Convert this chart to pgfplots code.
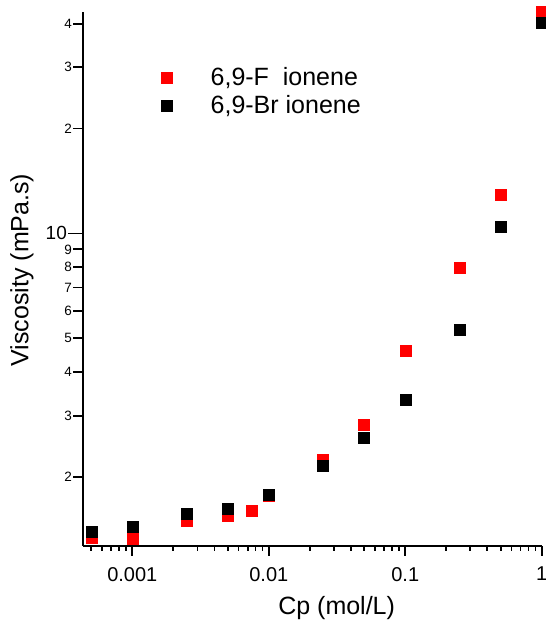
\documentclass[border=0pt]{standalone}
\usepackage{pgfplots}
\pgfplotsset{compat=1.18}
\usepackage{fontspec}
\setmainfont{Liberation Sans}
\usetikzlibrary{calc}

\begin{document}
\begin{tikzpicture}
\begin{axis}[
    name=ax,
    scale only axis,
    width=458.7pt, height=533.7pt,
    xmode=log, ymode=log,
    xmin=0.000435, xmax=1,
    ymin=1.27, ymax=43.2,
    axis lines=left,
    axis line style={line width=1.8pt, -},
    every tick/.style={black, line width=1.8pt},
    tick align=outside,
    major tick length=10pt,
    minor tick length=5pt,
    xtick={0.001,0.01,0.1,1},
    xticklabels={0.001,0.01,0.1,1},
    minor xtick={0.0005,0.0006,0.0007,0.0008,0.0009,
                 0.002,0.003,0.004,0.005,0.006,0.007,0.008,0.009,
                 0.02,0.03,0.04,0.05,0.06,0.07,0.08,0.09,
                 0.2,0.3,0.4,0.5,0.6,0.7,0.8,0.9},
    ytick={2,3,4,5,6,7,8,9,20,30,40},
    yticklabels={2,3,4,5,6,7,8,9,2,3,4},
    minor ytick={},
    extra y ticks={10},
    extra y tick labels={10},
    extra y tick style={major tick length=15pt,
        yticklabel style={font=\fontsize{19}{19}\selectfont}},
    xticklabel style={font=\fontsize{20}{20}\selectfont, yshift=-8pt},
    yticklabel style={font=\fontsize{13.5}{13.5}\selectfont, inner sep=1pt},
    xlabel={Cp (mol/L)},
    ylabel={Viscosity (mPa.s)},
    x label style={font=\fontsize{25}{25}\selectfont,
        at={(axis description cs:0.553,-0.1162)}, anchor=center},
    y label style={font=\fontsize{25}{25}\selectfont,
        at={(axis description cs:-0.133,0.5166)}, anchor=center},
    clip=false,
    legend cell align=left,
    legend image code/.code={
        \path[draw=none] (0pt,0pt) -- (42pt,0pt);
        \draw[#1] plot coordinates {(0pt,0pt)};
    },
    legend style={draw=none, fill=none, font=\fontsize{25}{25}\selectfont,
        at={(axis description cs:0.170,0.8998)}, anchor=north west,
        row sep=4.5pt, inner sep=0pt},
]
\addplot[only marks, mark=square*, mark size=5.5pt, red,
    mark options={draw=none, fill=red}] coordinates {
    (0.0005,1.34) (0.001,1.33) (0.0025,1.50) (0.005,1.545)
    (0.0075,1.60) (0.01,1.77) (0.025,2.24) (0.05,2.82)
    (0.1,4.61) (0.25,7.95) (0.5,12.9) (1,43.4)
};
\addlegendentry{6,9-F\ \ ionene}
\addplot[only marks, mark=square*, mark size=5.5pt, black,
    mark options={draw=none, fill=black}] coordinates {
    (0.0005,1.39) (0.001,1.44) (0.0025,1.57) (0.005,1.62)
    (0.01,1.78) (0.025,2.16) (0.05,2.59) (0.1,3.33)
    (0.25,5.30) (0.5,10.46) (1,40.3)
};
\addlegendentry{6,9-Br ionene}
\end{axis}
\pgfresetboundingbox
\path ($(ax.south west)+(-83pt,-75.3pt)$) rectangle ($(ax.north east)+(4.3pt,12pt)$);
\end{tikzpicture}
\end{document}
